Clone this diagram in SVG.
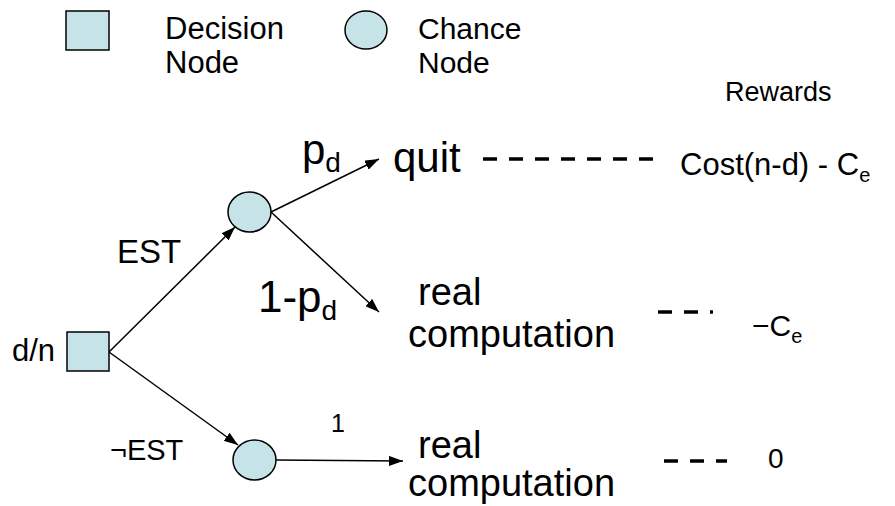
<svg xmlns="http://www.w3.org/2000/svg" width="895" height="506" viewBox="0 0 895 506">
<defs>
<marker id="ah" viewBox="0 0 14 10" refX="14" refY="5" markerWidth="14" markerHeight="10" markerUnits="userSpaceOnUse" orient="auto">
<path d="M0,0 L14,5 L0,10 z" fill="#000"/>
</marker>
</defs>
<style>
.t{font-family:"Liberation Sans",Arial,sans-serif;fill:#000}
.node{fill:#c6e4e8;stroke:#000;stroke-width:1.5}
.edge{stroke:#000;stroke-width:1.5;fill:none;marker-end:url(#ah)}
.dash{stroke:#000;stroke-width:3.5;fill:none;stroke-dasharray:14 12}
</style>
<rect width="895" height="506" fill="#fff"/>
<g id="legend">
<rect class="node" x="66" y="11" width="43" height="39"/>
<text class="t" x="165" y="39" font-size="31">Decision</text>
<text class="t" x="165" y="73" font-size="31">Node</text>
<ellipse class="node" cx="366" cy="30" rx="21" ry="19"/>
<text class="t" x="418" y="39" font-size="30">Chance</text>
<text class="t" x="418" y="73" font-size="30">Node</text>
<text class="t" x="725" y="101" font-size="27">Rewards</text>
</g>
<g id="connectors">
<line class="edge" x1="109" y1="352" x2="235" y2="227"/>
<line class="edge" x1="109" y1="352" x2="238" y2="445"/>
<line class="edge" x1="271" y1="212" x2="379" y2="159"/>
<line class="edge" x1="271" y1="212" x2="379" y2="312"/>
<line class="edge" x1="276" y1="460" x2="403" y2="461"/>
<line class="dash" x1="483" y1="159" x2="656" y2="159"/>
<line class="dash" x1="658" y1="312" x2="713" y2="312"/>
<line class="dash" x1="664" y1="461" x2="727" y2="461"/>
</g>
<g id="decision">
<rect class="node" x="67" y="332" width="42" height="39"/>
<text class="t" x="12" y="361" font-size="31">d/n</text>
</g>
<g id="chance1">
<ellipse class="node" cx="249.5" cy="212" rx="21.5" ry="20"/>
</g>
<g id="chance2">
<ellipse class="node" cx="254.5" cy="460" rx="21.5" ry="20"/>
</g>
<g id="labels">
<text class="t" x="117" y="263" font-size="33">EST</text>
<text class="t" x="110" y="460" font-size="29">¬EST</text>
<text class="t" x="302" y="164" font-size="42">p<tspan font-size="28" dy="8">d</tspan></text>
<text class="t" x="258" y="312" font-size="44">1-p<tspan font-size="28" dy="8">d</tspan></text>
<text class="t" x="331" y="432" font-size="25">1</text>
</g>
<g id="quit">
<text class="t" x="393" y="172" font-size="42">quit</text>
<text class="t" x="680" y="175" font-size="31">Cost(n-d) - C<tspan font-size="20" dy="7">e</tspan></text>
</g>
<g id="real1">
<text class="t" x="418" y="305" font-size="38">real</text>
<text class="t" x="408" y="347" font-size="38">computation</text>
<text class="t" x="752" y="336" font-size="30">−C<tspan font-size="20" dy="7">e</tspan></text>
</g>
<g id="real2">
<text class="t" x="418" y="458" font-size="38">real</text>
<text class="t" x="408" y="496" font-size="38">computation</text>
<text class="t" x="768" y="468" font-size="28">0</text>
</g>
</svg>
